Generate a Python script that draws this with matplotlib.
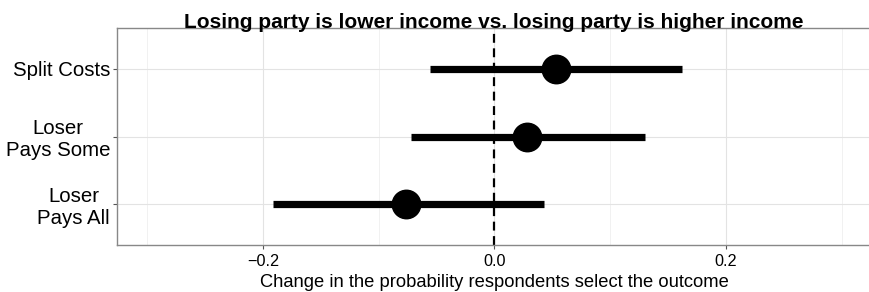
import matplotlib
matplotlib.use("Agg")
import matplotlib.pyplot as plt
from matplotlib.ticker import MultipleLocator

plt.rcParams['font.family'] = ['Liberation Sans', 'DejaVu Sans']

categories = ["Split Costs", "Loser\nPays Some", "Loser\nPays All"]
estimates = [0.053, 0.0285, -0.076]
lower = [-0.056, -0.072, -0.191]
upper = [0.162, 0.130, 0.043]
xticks = [-0.2, 0.0, 0.2]
xticklabels = ["\u22120.2", "0.0", "0.2"]
title = "Losing party is lower income vs. losing party is higher income"
xlabel = "Change in the probability respondents select the outcome"

fig = plt.figure(figsize=(8.7, 2.92), dpi=100)
# the plot panel runs off the right edge of the figure (its right border is cut off)
ax = fig.add_axes([117/870, 1-245/292, (900-117)/870, (245-28)/292])

ypos = [3, 2, 1]
ax.axvline(0, color='black', lw=1.6, ls=(0, (4, 2.5)), zorder=2)
for y, e, lo, hi in zip(ypos, estimates, lower, upper):
    ax.plot([lo, hi], [y, y], color='black', lw=5.2, solid_capstyle='butt', zorder=3)
    ax.plot([e], [y], 'o', color='black', ms=20.5, zorder=4)

ax.set_xlim(-0.326, -0.326 + (900-117)/1157.5)
ax.set_ylim(0.4, 3.6)
ax.set_yticks(ypos)
ax.set_yticklabels(categories, fontsize=14.7)
ax.set_xticks(xticks)
ax.set_xticklabels(xticklabels, fontsize=11.7)
ax.xaxis.set_minor_locator(MultipleLocator(0.1))
ax.grid(True, which='major', color='#e3e3e3', lw=0.8, zorder=0)
ax.grid(True, which='minor', axis='x', color='#efefef', lw=0.6, zorder=0)
ax.set_axisbelow(True)
ax.tick_params(axis='both', which='major', length=3, width=0.8, color='#555555', pad=2)
ax.tick_params(axis='x', which='major', pad=3.5)
ax.tick_params(axis='x', which='minor', length=0)
for lbl in ax.get_yticklabels():
    lbl.set_multialignment('center')
for name in ['left', 'top', 'bottom']:
    ax.spines[name].set_color('#888888')
    ax.spines[name].set_linewidth(1.0)
ax.spines['right'].set_color('none')
ax.spines['right'].set_linewidth(0)
ax.spines['right'].set_visible(False)
ax.set_xlabel(xlabel, fontsize=13.2, labelpad=4.5)
cx = (494-117)/(900-117)
ax.xaxis.set_label_coords(cx, -0.135)
ax.text(cx, 1.0, title, transform=ax.transAxes, ha='center', va='baseline',
        fontsize=15, fontweight='bold', zorder=5)

fig.savefig("out.png", dpi=100)
